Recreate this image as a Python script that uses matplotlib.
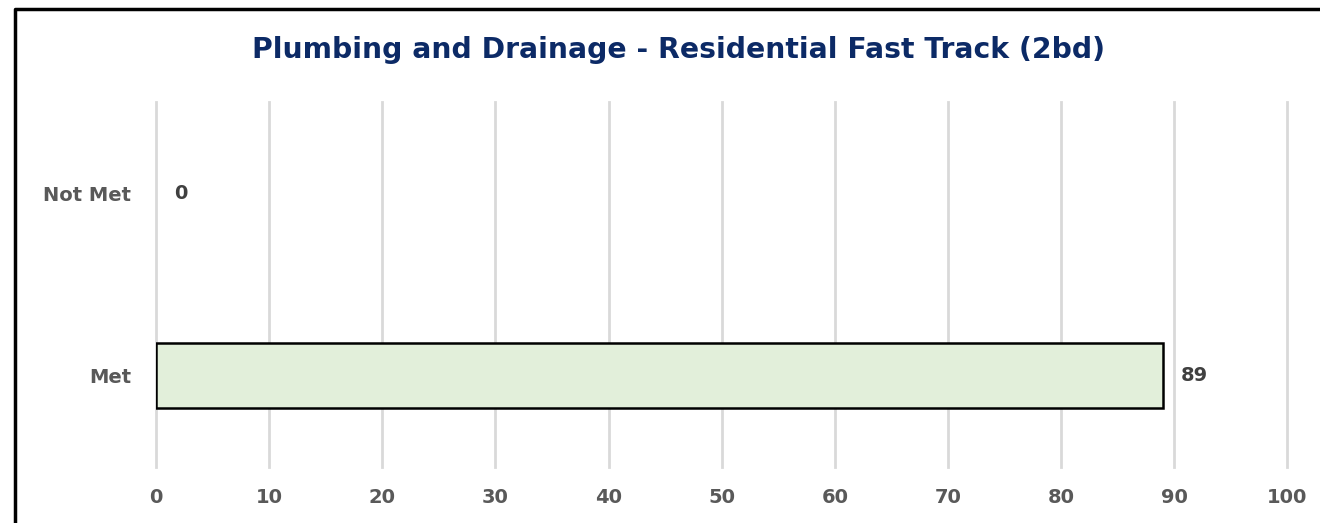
import matplotlib.pyplot as plt
from matplotlib.lines import Line2D

categories = ['Met', 'Not Met']
values = [89, 0]
x_ticks = [0, 10, 20, 30, 40, 50, 60, 70, 80, 90, 100]
title = 'Plumbing and Drainage - Residential Fast Track (2bd)'

plt.rcParams['font.family'] = ['DejaVu Sans']

fig = plt.figure(figsize=(13.2, 5.23), dpi=100)
ax = fig.add_axes([0.1182, 0.107, 0.857, 0.698])

pos = list(range(len(categories)))
bars = ax.barh(pos, values, height=0.355, color='#e2efda', edgecolor='black', linewidth=1.8, zorder=3)
# a zero-width bar should not draw its outline
for b, v in zip(bars, values):
    if v == 0:
        b.set_linewidth(0)

for p, v in zip(pos, values):
    ax.text(v + 1.6, p, str(v), va='center', ha='left', fontsize=14,
            fontweight='bold', color='#404040')

ax.set_xlim(0, 100)
ax.set_ylim(-0.5, 1.5)
ax.set_xticks(x_ticks)
ax.set_yticks(pos)
ax.set_yticklabels(categories)
ax.xaxis.grid(True, color='#d9d9d9', linewidth=2)
for gl in ax.get_xgridlines():
    gl.set_clip_on(False)
ax.set_axisbelow(True)
for s in ax.spines.values():
    s.set_visible(False)
ax.tick_params(length=0, labelsize=14, labelcolor='#595959')
ax.tick_params(axis='x', pad=15)
ax.tick_params(axis='y', pad=18)
for lab in ax.get_xticklabels() + ax.get_yticklabels():
    lab.set_fontweight('bold')

fig.text(0.514, 0.904, title, ha='center', va='center', fontsize=20.3,
         fontweight='bold', color='#0c2a66')

# frame around the chart (clipped on right/bottom in the reference)
fig.add_artist(Line2D([0.0110, 0.0110, 1.0], [0.0, 0.983, 0.983],
                      transform=fig.transFigure, color='black', linewidth=2.5))

fig.savefig('out.png', dpi=100)
